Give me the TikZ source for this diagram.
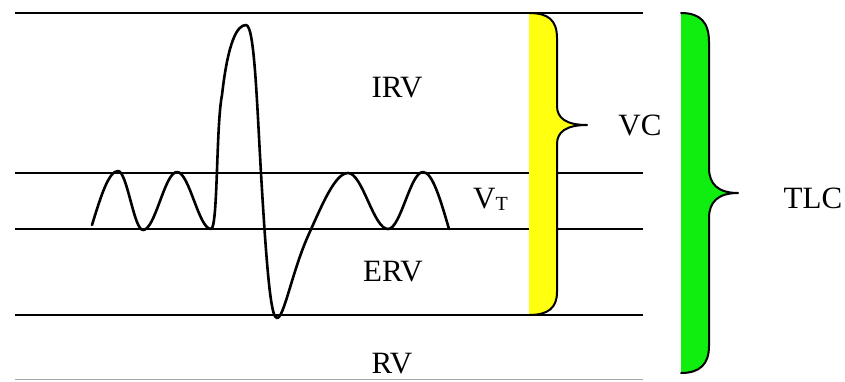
\documentclass[tikz,border=0pt]{standalone}
\usepackage{fontspec}
\setmainfont{Liberation Serif}
\usepackage{xcolor}
\definecolor{VCfill}{HTML}{FFFF10}
\definecolor{TLCfill}{HTML}{10EE10}
\definecolor{Faint}{HTML}{A8A8A8}
\usetikzlibrary{positioning}
\tikzset{
  level/.style={line width=1.5pt,draw=black},
  trace/.style={line width=2.6pt,line join=round,line cap=round},
  curly/.style={line width=2pt,line join=round,line cap=round},
  lbl/.style={font=\fontsize{31}{31}\selectfont,inner sep=0pt}
}

\begin{document}
\begin{tikzpicture}[x=1pt,y=-1pt]
  \useasboundingbox (0,0) rectangle (845,381);
  \foreach \yy in {13,173,229,315}
    \draw[level] (15,\yy) -- (643,\yy);
  \draw[level,draw=Faint] (15,379.5) -- (643,379.5);
  \draw[trace] (92,225) sin (118,171) cos (130.5,200.5) sin (143,230)
    cos (160,201) sin (177,172) cos (194,200.5) sin (211,229)
    .. controls (218,229) and (216,125) .. (222,95)
    .. controls (228,42) and (237,25) .. (246,25)
    .. controls (255,25) and (257,110) .. (262,190)
    .. controls (268,290) and (272,318) .. (277,318)
    .. controls (284,318) and (292,272) .. (308,236)
    .. controls (322,205) and (335,173) .. (348,173)
    cos (368,201) sin (388,229) cos (405.5,200.5) sin (423,172)
    cos (449,229);
  \fill[VCfill] (529,13) .. controls (548,13) and (557,20) .. (557,38) -- (557,106)
    .. controls (557,118) and (566,125) .. (587,125)
    .. controls (566,125) and (557,132) .. (557,144) -- (557,292)
    .. controls (557,308) and (548,315) .. (529,315) -- cycle;
  \draw[curly] (529,13) .. controls (548,13) and (557,20) .. (557,38) -- (557,106)
    .. controls (557,118) and (566,125) .. (587,125)
    .. controls (566,125) and (557,132) .. (557,144) -- (557,292)
    .. controls (557,308) and (548,315) .. (529,315);
  \fill[TLCfill] (681,13) .. controls (700,13) and (709,22) .. (709,42) -- (709,168)
    .. controls (709,184) and (718,193) .. (738,193)
    .. controls (718,193) and (709,202) .. (709,218) -- (709,346)
    .. controls (709,364) and (700,373) .. (681,373) -- cycle;
  \draw[curly] (681,13) .. controls (700,13) and (709,22) .. (709,42) -- (709,168)
    .. controls (709,184) and (718,193) .. (738,193)
    .. controls (718,193) and (709,202) .. (709,218) -- (709,346)
    .. controls (709,364) and (700,373) .. (681,373);
  \node[lbl] (irv) at (397,88) {IRV};
  \node[lbl] (erv) at (393,272) {ERV};
  \node[lbl] (rv) at (392,364) {RV};
  \node[lbl] (vc) at (640,125) {VC};
  \node[lbl,anchor=base west] (vt) at (473,208)
    {V\raisebox{-2pt}{\fontsize{20}{20}\selectfont T}};
  \node[lbl] (tlc) at (813,198) {TLC};
\end{tikzpicture}
\end{document}
